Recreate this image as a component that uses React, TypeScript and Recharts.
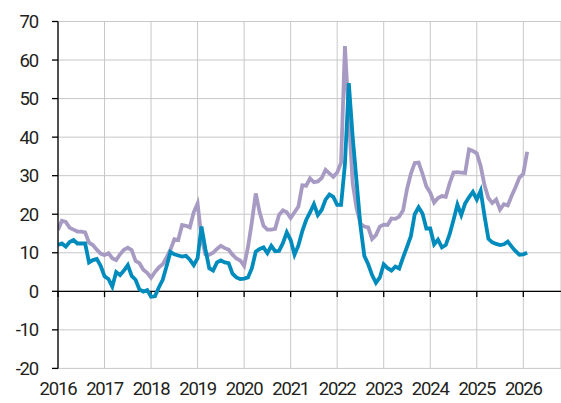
import { LineChart, Line, XAxis, YAxis, CartesianGrid, ReferenceLine } from 'recharts';

document.body.style.margin = '0';

const START_YEAR = 2016;

const yearTicks = [2016, 2017, 2018, 2019, 2020, 2021, 2022, 2023, 2024, 2025, 2026];
const valueTicks = [-20, -10, 0, 10, 20, 30, 40, 50, 60, 70];

// monthly readings, Jan 2016 onwards
const purpleSeries = [
  15.9, 18.3, 18.0, 16.5, 16.0, 15.5, 15.5, 15.3, 12.6, 12.0, 10.8, 9.8,
  9.4, 9.9, 8.6, 8.1, 9.6, 10.8, 11.3, 10.7, 7.9, 7.3, 5.6, 4.8,
  3.5, 5.0, 6.2, 7.0, 8.8, 10.8, 13.5, 13.3, 17.2, 17.0, 16.6, 20.5,
  22.8, 14.0, 9.6, 9.5, 10.0, 11.0, 11.8, 11.2, 10.8, 9.5, 8.5, 8.0,
  6.6, 11.5, 18.0, 25.4, 20.5, 17.0, 16.0, 16.0, 16.2, 19.8, 21.0, 20.5,
  19.0, 20.5, 22.0, 27.5, 27.4, 29.3, 28.3, 28.5, 29.4, 31.5, 30.6, 29.7,
  30.8, 33.4, 63.6, 45.0, 28.0, 21.5, 17.5, 16.8, 16.6, 13.6, 14.6, 16.8,
  17.3, 17.2, 18.9, 18.8, 19.4, 21.0, 26.5, 30.5, 33.3, 33.4, 30.5, 27.2,
  25.6, 23.0, 24.2, 24.7, 24.5, 28.0, 30.8, 30.9, 30.8, 30.7, 36.8, 36.4,
  35.8, 32.5, 27.5, 24.2, 22.9, 23.8, 21.2, 22.6, 22.3, 24.8, 27.0, 29.5,
  30.5, 36.2,
];

const tealSeries = [
  12.0, 12.4, 11.6, 12.8, 13.3, 12.4, 12.4, 12.4, 7.5, 8.1, 8.4, 6.6,
  3.9, 3.2, 1.2, 5.0, 4.2, 5.4, 6.8, 4.0, 3.0, 0.5, -0.1, 0.3,
  -1.4, -1.3, 1.0, 3.0, 6.5, 10.2, 9.6, 9.3, 9.0, 9.2, 8.2, 6.8,
  8.6, 16.8, 11.0, 6.0, 5.4, 7.5, 8.0, 7.5, 7.3, 4.6, 3.6, 3.2,
  3.3, 3.6, 6.0, 10.3, 11.0, 11.4, 9.9, 11.8, 10.4, 10.5, 12.5, 15.3,
  13.3, 9.5, 11.9, 15.6, 18.5, 20.5, 22.6, 19.8, 21.1, 23.8, 25.1, 24.5,
  22.4, 22.4, 33.0, 54.0, 40.0, 28.5, 17.0, 9.2, 7.0, 4.2, 2.2, 3.6,
  7.0, 6.0, 5.4, 6.4, 5.9, 8.8, 11.5, 14.3, 20.0, 21.8, 20.2, 16.3,
  16.3, 12.2, 13.4, 11.4, 12.0, 14.8, 18.5, 22.5, 19.8, 22.8, 24.4, 25.8,
  23.8, 26.1, 19.5, 13.6, 12.7, 12.3, 12.0, 12.2, 12.9, 11.6, 10.4, 9.5,
  9.6, 10.0,
];

const data = purpleSeries.map((p, i) => ({
  t: START_YEAR + i / 12,
  purple: p,
  teal: tealSeries[i],
}));

const FONT = "Roboto, sans-serif";
const tickStyle = { fontFamily: FONT, fontSize: 18.5, fill: '#231f20', letterSpacing: -1.2 };

export default function App() {
  return (
    <LineChart width={561} height={403} data={data} margin={{ top: 21.5, right: 0, bottom: 0, left: 0 }}>
      <CartesianGrid stroke="#c8c8c8" strokeWidth={1} />
      <XAxis
        dataKey="t"
        type="number"
        domain={[2016, 2026.81]}
        ticks={yearTicks}
        allowDataOverflow
        axisLine={false}
        tickLine={false}
        tickSize={6}
        tickMargin={7}
        height={34.6}
        tick={tickStyle}
      />
      <YAxis
        domain={[-20, 70]}
        ticks={valueTicks}
        width={58}
        axisLine={{ stroke: '#000', strokeWidth: 1.3 }}
        tickLine={{ stroke: '#000', strokeWidth: 1.3 }}
        tickSize={6}
        tickMargin={14}
        tick={tickStyle}
      />
      <ReferenceLine y={0} stroke="#000" strokeWidth={1.3} />
      {yearTicks.map((yr) => (
        <ReferenceLine
          key={yr}
          segment={[{ x: yr, y: 0 }, { x: yr, y: -1.5 }]}
          stroke="#000"
          strokeWidth={1.3}
        />
      ))}
      <Line type="linear" dataKey="purple" stroke="#a89bc3" strokeWidth={3.8} dot={false} isAnimationActive={false} />
      <Line type="linear" dataKey="teal" stroke="#008bbd" strokeWidth={3.8} dot={false} isAnimationActive={false} />
    </LineChart>
  );
}
